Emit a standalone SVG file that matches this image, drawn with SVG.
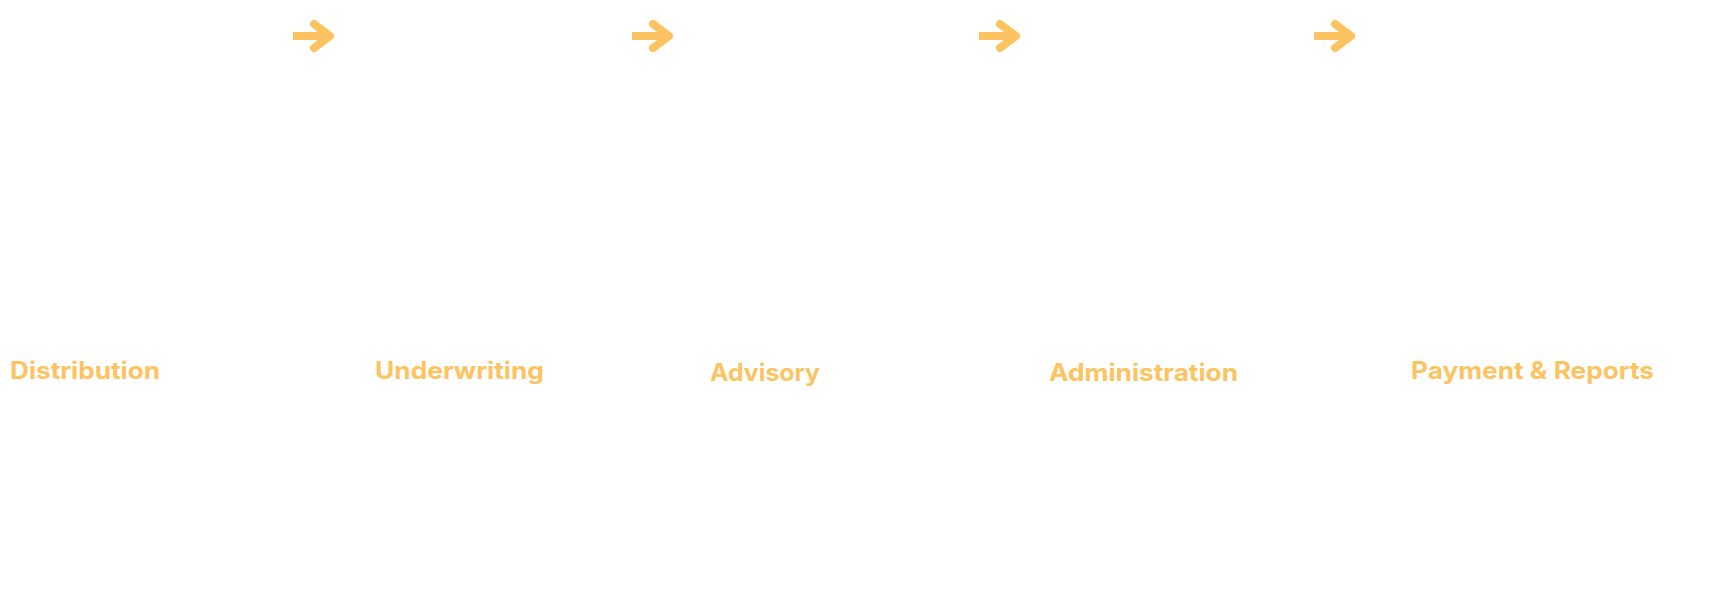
<svg xmlns="http://www.w3.org/2000/svg" width="1717" height="599" viewBox="0 0 1717 599">
<style>
.lbl{font-family:"Inter","Open Sans","Liberation Sans",sans-serif;font-weight:700;font-size:24px;fill:#fdc361}
.arr{fill:none;stroke:#fdc361;stroke-width:8}
.head{fill:none;stroke:#fdc361;stroke-width:8;stroke-linecap:round;stroke-linejoin:round}
</style>
<defs>
<g id="arrow"><path class="arr" d="M0 36H36"/><path class="head" d="M21 24L37 36L21 48"/></g>
</defs>
<rect width="1717" height="599" fill="#ffffff"/>
<g id="connectors">
<use href="#arrow" x="293"/>
<use href="#arrow" x="632"/>
<use href="#arrow" x="979"/>
<use href="#arrow" x="1314"/>
</g>
<g id="node-distribution"><text class="lbl" x="10" y="379" textLength="150" lengthAdjust="spacingAndGlyphs">Distribution</text></g>
<g id="node-underwriting"><text class="lbl" x="375" y="379" textLength="169" lengthAdjust="spacingAndGlyphs">Underwriting</text></g>
<g id="node-advisory"><text class="lbl" x="710" y="381" textLength="110" lengthAdjust="spacingAndGlyphs">Advisory</text></g>
<g id="node-administration"><text class="lbl" x="1049" y="381" textLength="189" lengthAdjust="spacingAndGlyphs">Administration</text></g>
<g id="node-payment"><text class="lbl" x="1411" y="379" textLength="243" lengthAdjust="spacingAndGlyphs">Payment &amp; Reports</text></g>
</svg>
